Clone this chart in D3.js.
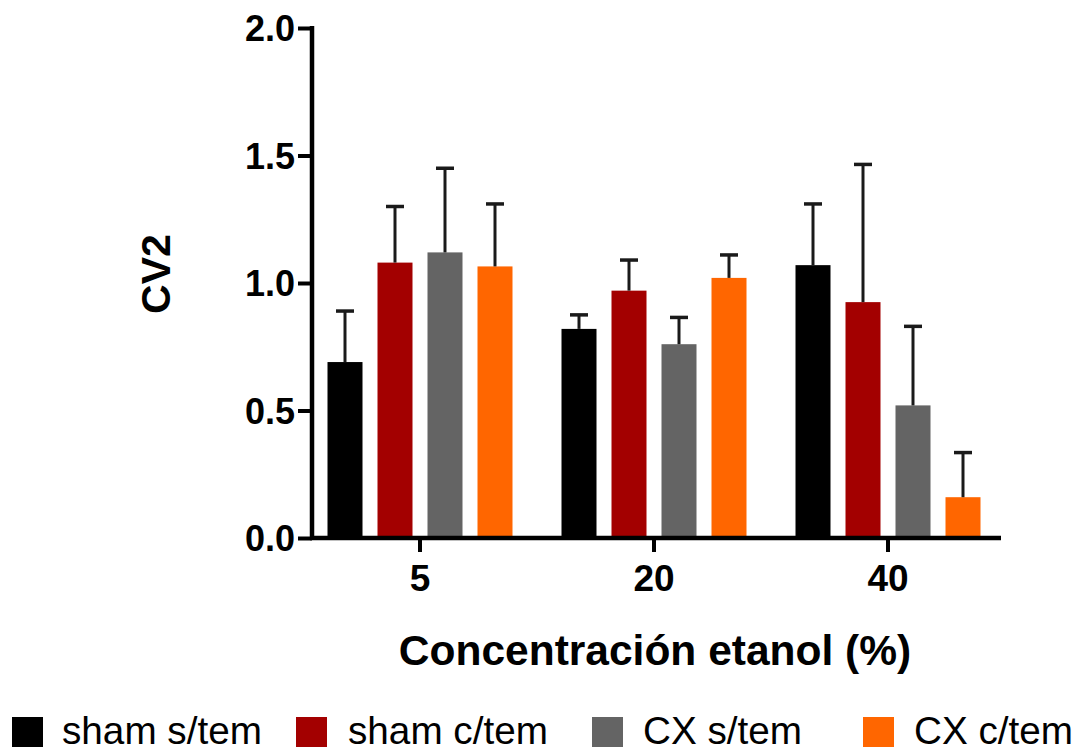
<!DOCTYPE html>
<html>
<head>
<meta charset="utf-8">
<script src="https://cdn.jsdelivr.net/npm/d3@7"></script>
<style>
  html, body { margin: 0; padding: 0; background: #fff; }
  svg { display: block; }
</style>
</head>
<body>
<svg id="chart" width="1079" height="755"></svg>
<script>
// ---- data ----
const categories = ["5", "20", "40"];
const seriesNames = ["sham s/tem", "sham c/tem", "CX s/tem", "CX c/tem"];
const seriesColors = ["#000000", "#a30000", "#646464", "#ff6600"];
const shamSTem = [0.69, 0.82, 1.07];
const shamSTemErr = [0.20, 0.055, 0.24];
const shamCTem = [1.08, 0.97, 0.925];
const shamCTemErr = [0.22, 0.12, 0.54];
const cxSTem = [1.12, 0.76, 0.52];
const cxSTemErr = [0.33, 0.105, 0.31];
const cxCTem = [1.065, 1.02, 0.16];
const cxCTemErr = [0.245, 0.09, 0.175];
const yTicks = [0, 0.5, 1.0, 1.5, 2.0];
const yLabel = "CV2";
const xLabel = "Concentración etanol (%)";

const values = [shamSTem, shamCTem, cxSTem, cxCTem];
const errors = [shamSTemErr, shamCTemErr, cxSTemErr, cxCTemErr];
const rows = [];
categories.forEach((c, ci) => {
  seriesNames.forEach((s, si) => {
    rows.push({cat: c, series: s, si, value: values[si][ci], err: errors[si][ci]});
  });
});

const svg = d3.select("#chart");
const font = "'Liberation Sans', Arial, sans-serif";

const y = d3.scaleLinear().domain([0, 2]).range([538, 28]);
const x0 = d3.scaleBand().domain(categories).range([303, 1005]);
const x1 = d3.scaleBand().domain(seriesNames).range([-100, 100]).paddingInner(0.3).paddingOuter(0.15);
const color = d3.scaleOrdinal().domain(seriesNames).range(seriesColors);

const axisX = 312;
const cx = d => x0(d.cat) + x0.bandwidth() / 2 + x1(d.series) + x1.bandwidth() / 2;

// bars
const g = svg.append("g");
g.selectAll("rect.bar").data(rows).join("rect")
  .attr("class", "bar")
  .attr("x", d => x0(d.cat) + x0.bandwidth() / 2 + x1(d.series))
  .attr("y", d => y(d.value))
  .attr("width", x1.bandwidth())
  .attr("height", d => y(0) - y(d.value))
  .attr("fill", d => color(d.series));

// error bars (upper only)
const eb = g.selectAll("g.err").data(rows).join("g").attr("class", "err");
eb.append("line")
  .attr("x1", cx).attr("x2", cx)
  .attr("y1", d => y(d.value))
  .attr("y2", d => y(d.value + d.err))
  .attr("stroke", "#1a1a1a").attr("stroke-width", 3);
eb.append("line")
  .attr("x1", d => cx(d) - 9).attr("x2", d => cx(d) + 9)
  .attr("y1", d => y(d.value + d.err))
  .attr("y2", d => y(d.value + d.err))
  .attr("stroke", "#1a1a1a").attr("stroke-width", 3.5);

// y axis
const yAxis = d3.axisLeft(y).tickValues(yTicks).tickFormat(d3.format(".1f")).tickSize(14).tickPadding(3);
const gy = svg.append("g").attr("transform", `translate(${axisX},0)`).call(yAxis);
gy.select(".domain").remove();
gy.selectAll(".tick line").attr("stroke", "#000").attr("stroke-width", 4);
gy.selectAll(".tick text")
  .attr("font-family", font).attr("font-weight", "bold").attr("font-size", 36)
  .attr("fill", "#000").attr("dy", "0.36em");
svg.append("line").attr("x1", axisX).attr("x2", axisX).attr("y1", y(2) - 2).attr("y2", y(0) + 2)
  .attr("stroke", "#000").attr("stroke-width", 4.5);

// x axis
const xAxis = d3.axisBottom(x0).tickSize(14).tickPadding(13);
const gx = svg.append("g").attr("transform", `translate(0,${y(0)})`).call(xAxis);
gx.select(".domain").remove();
gx.selectAll(".tick line").attr("stroke", "#000").attr("stroke-width", 4);
gx.selectAll(".tick text")
  .attr("font-family", font).attr("font-weight", "bold").attr("font-size", 37).attr("fill", "#000");
svg.append("line").attr("x1", axisX - 2).attr("x2", 1001).attr("y1", y(0)).attr("y2", y(0))
  .attr("stroke", "#000").attr("stroke-width", 4.5);

// axis titles
svg.append("text")
  .attr("transform", `translate(170,274) rotate(-90)`)
  .attr("text-anchor", "middle")
  .attr("font-family", font).attr("font-weight", "bold").attr("font-size", 41)
  .text(yLabel);
svg.append("text")
  .attr("x", 655).attr("y", 665)
  .attr("text-anchor", "middle")
  .attr("font-family", font).attr("font-weight", "bold").attr("font-size", 42.5)
  .text(xLabel);

// legend
const legendX = [12, 296, 592, 863];
const legendTextX = [62, 348, 643, 914];
const lg = svg.append("g");
seriesNames.forEach((s, i) => {
  lg.append("rect").attr("x", legendX[i]).attr("y", 717).attr("width", 31).attr("height", 30).attr("fill", color(s));
  lg.append("text").attr("x", legendTextX[i]).attr("y", 744)
    .attr("font-family", font).attr("font-size", 38.7).attr("fill", "#000")
    .text(s);
});
</script>
</body>
</html>
